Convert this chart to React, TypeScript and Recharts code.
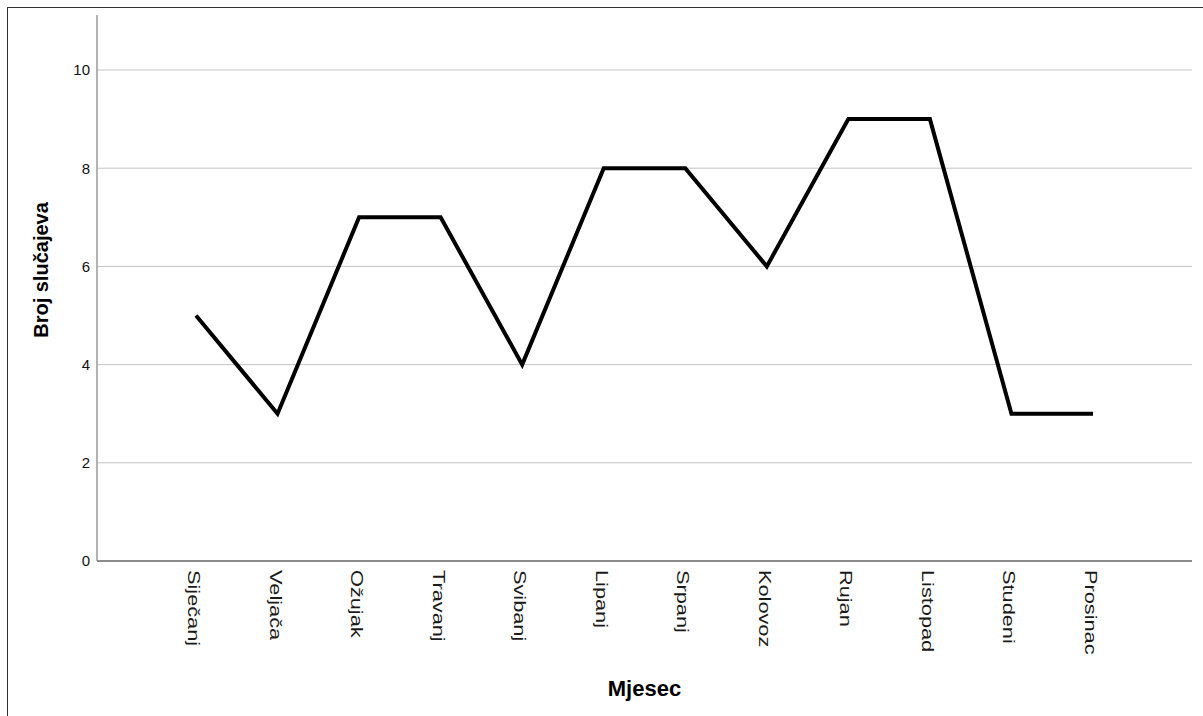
import React from 'react';
import { LineChart, Line, XAxis, YAxis, CartesianGrid } from 'recharts';

const months = ['Siječanj', 'Veljača', 'Ožujak', 'Travanj', 'Svibanj', 'Lipanj', 'Srpanj', 'Kolovoz', 'Rujan', 'Listopad', 'Studeni', 'Prosinac'];
const cases = [5, 3, 7, 7, 4, 8, 8, 6, 9, 9, 3, 3];
const yTicks = [0, 2, 4, 6, 8, 10];

const data = months.map((m, i) => ({ month: m, value: cases[i] }));

const FONT = '"Liberation Sans", Arial, sans-serif';

const MonthTick = (props: any) => {
  const { x, y, payload } = props;
  return (
    <g transform={`translate(${x},${y})`}>
      <text
        transform="rotate(90) scale(1.36,1)"
        x={0}
        y={0}
        dy={8}
        textAnchor="start"
        fontFamily={FONT}
        fontSize={16}
        fill="#1a1a1a"
      >
        {payload.value}
      </text>
    </g>
  );
};

const YTitle = (props: any) => {
  const vb = props.viewBox || { x: 0, y: 15, width: 97, height: 546 };
  const cx = 48;
  const cy = vb.y + vb.height / 2 - 18;
  return (
    <text
      transform={`translate(${cx},${cy}) rotate(-90)`}
      textAnchor="middle"
      fontFamily={FONT}
      fontWeight="bold"
      fontSize={20}
      fill="#000"
    >
      Broj slučajeva
    </text>
  );
};

const XTitle = (props: any) => {
  const vb = props.viewBox || { x: 97, y: 561, width: 1095, height: 155 };
  return (
    <text
      x={vb.x + vb.width / 2}
      y={vb.y + 135}
      textAnchor="middle"
      fontFamily={FONT}
      fontWeight="bold"
      fontSize={22}
      fill="#000"
    >
      Mjesec
    </text>
  );
};

export default function App() {
  return (
    <div style={{ position: 'absolute', left: 0, top: 0, width: 1203, height: 716, overflow: 'hidden', background: '#fff' }}>
      <div
        style={{
          position: 'absolute',
          left: 7,
          top: 7,
          width: 1300,
          height: 800,
          borderTop: '1px solid #333',
          borderLeft: '1px solid #333',
        }}
      />
      <div style={{ position: 'absolute', left: 0, top: 0 }}>
        <LineChart width={1203} height={716} data={data} margin={{ top: 15, right: 11, bottom: 0, left: 0 }}>
          <CartesianGrid vertical={false} stroke="#c4c4c4" strokeWidth={1} horizontalValues={[2, 4, 6, 8, 10]} />
          <XAxis
            dataKey="month"
            type="category"
            height={155}
            padding={{ left: 99, right: 99 }}
            axisLine={{ stroke: '#666', strokeWidth: 1.5 }}
            tickLine={false}
            tickSize={0}
            tickMargin={9}
            interval={0}
            tick={<MonthTick />}
            label={<XTitle />}
          />
          <YAxis
            width={97}
            domain={[0, 11.12]}
            ticks={yTicks}
            allowDataOverflow
            axisLine={{ stroke: '#999', strokeWidth: 1.5 }}
            tickLine={false}
            tickSize={0}
            tickMargin={7}
            tick={{ fontFamily: FONT, fontSize: 15, fill: '#111' }}
            label={<YTitle />}
          />
          <Line
            type="linear"
            dataKey="value"
            stroke="#000"
            strokeWidth={4}
            strokeLinejoin="miter"
            strokeLinecap="butt"
            dot={false}
            activeDot={false}
            isAnimationActive={false}
          />
        </LineChart>
      </div>
    </div>
  );
}
